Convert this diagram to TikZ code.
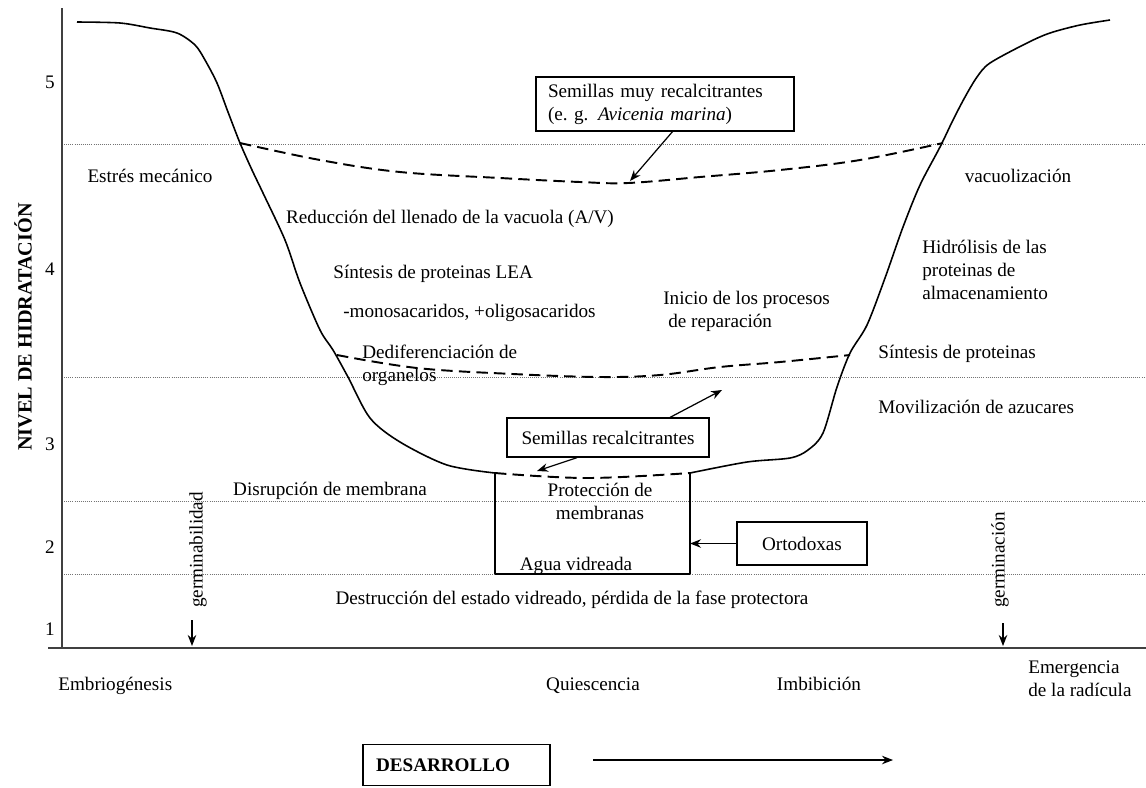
\documentclass[tikz,border=0pt]{standalone}
\usepackage{fontspec}
\setmainfont{Liberation Serif}
\usetikzlibrary{arrows.meta, positioning}

\begin{document}
\begin{tikzpicture}[
    x=0.2mm, y=-0.2mm,
    lbl/.style={font=\fontsize{10.9}{13}\selectfont, inner sep=0pt},
    one/.style={text height=1.55ex, text depth=0.3ex},
    box/.style={draw, line width=0.8pt, inner sep=0pt, font=\fontsize{10.9}{13}\selectfont},
    arr/.style={-{Stealth[length=2.2mm, width=1.7mm]}, line width=0.7pt},
    guide/.style={black!55, dash pattern=on 0.5pt off 0.7pt, line width=0.5pt},
    curve/.style={line width=0.9pt},
    dcurve/.style={line width=1.1pt, dash pattern=on 6.5pt off 3.5pt}
]
\useasboundingbox (0,0) rectangle (1146,787);

% Axes
\draw[line width=1pt, black!75] (62,8) -- (62,648);
\draw[line width=1pt, black!75] (48,648) -- (1146,648);
\foreach \v/\yy in {5/83, 4/270, 3/445, 2/548, 1/630}
  \node[lbl, one] (tick\v) at (50,\yy) {\v};
\node[font=\fontsize{11.5}{13}\selectfont\bfseries, rotate=90] (ylab) at (23,327) {NIVEL DE HIDRATACIÓN};

% Guide levels
\foreach \yy in {144, 377, 501, 574}
  \draw[guide] (64,\yy) -- (1146,\yy);

% Hydration curve
\draw[curve] plot[smooth, tension=0.5] coordinates {(77,22) (120,23) (150,28) (177,33) (195,45) (205,60) (217,83) (228,112) (240,143) (252,170) (263,193) (285,240) (300,283) (320,330) (333,350) (348,377) (370,418) (400,442) (447,465) (495,473)};
\draw[curve] plot[smooth, tension=0.5] coordinates {(690,473) (747,462) (790,458) (808,450) (823,433) (837,387) (850,353) (867,325) (885,278) (903,227) (920,185) (940,147) (953,120) (965,97) (977,77) (990,63) (1027,43) (1050,33) (1080,25) (1110,20)};

% Seed type curves
\draw[dcurve] plot[smooth, tension=0.6] coordinates {(240,143) (320,160) (400,172) (500,178) (580,182) (628,183) (700,177) (780,170) (860,160) (943,143)};
\draw[dcurve] plot[smooth, tension=0.6] coordinates {(337,355) (417,368) (513,374) (600,377) (660,375) (720,367) (780,362) (850,355)};
\draw[dcurve] plot[smooth, tension=0.6] coordinates {(495,473) (587,478) (690,473)};

% Orthodox window
\coordinate (ltop) at (495,473);
\coordinate (rtop) at (690,473);
\coordinate (lbot) at (495,574);
\coordinate (rbot) at (690,574);
\draw[line width=0.9pt] (ltop) -- (lbot);
\draw[line width=0.9pt] (rtop) -- (rbot);
\draw[line width=1.4pt] (lbot) -- (rbot);

% Boxes
\node[box, minimum width=5.16cm, minimum height=1.08cm, text width=4.68cm, align=left] (muyrec) at (665,104)
  {Semillas muy recalcitrantes\\(e.\ g. \textit{Avicenia marina})};
\node[box, minimum width=4.04cm, minimum height=0.78cm] (recalc) at (608,437.5) {Semillas recalcitrantes};
\node[box, minimum width=2.6cm, minimum height=0.86cm] (orto) at (802,543.5) {Ortodoxas};

% Box arrows
\coordinate (muytip) at (630,181);
\coordinate (uptip) at (722,390);
\coordinate (downtip) at (537,471);
\draw[arr] (muyrec.-75) -- (muytip);
\draw[arr] (recalc.18) -- (uptip);
\draw[arr] (recalc.-147) -- (downtip);
\draw[arr] (orto.west) -- (orto.west -| rbot);

% Labels left
\node[lbl, one] (estres) at (150,177) {Estrés mecánico};
\node[lbl, one] (vacuola) at (450,218) {Reducción del llenado de la vacuola (A/V)};
\node[lbl, one, anchor=west] (lea) at (333,273) {Síntesis de proteinas LEA};
\node[lbl, one, anchor=west] (azuc) at (343,312) {-monosacaridos, +oligosacaridos};
\node[lbl, anchor=west, align=left] (dedif) at (362,365) {Dediferenciación de\\organelos};
\node[lbl, anchor=west, align=left] (repar) at (663,311) {Inicio de los procesos\\\hspace{0.1cm}de reparación};
\node[lbl, one] (disrup) at (330,490) {Disrupción de membrana};
\node[lbl, align=center] (protec) at (600,501.5) {Protección de\\membranas};
\node[lbl, one] (agua) at (576,565) {Agua vidreada};
\node[lbl, one] (destr) at (572,599) {Destrucción del estado vidreado, pérdida de la fase protectora};

% Labels right
\node[lbl, one] (vacuo) at (1018,177) {vacuolización};
\node[lbl, anchor=west, align=left] (hidro) at (922,270) {Hidrólisis de las\\proteinas de\\almacenamiento};
\node[lbl, one, anchor=west] (sintp) at (878,353) {Síntesis de proteinas};
\node[lbl, one, anchor=west] (movil) at (878,408) {Movilización de azucares};

% Germination markers
\node[lbl, rotate=90] (germA) at (198,550) {germinabilidad};
\node[lbl, rotate=90] (germB) at (1000,560) {germinación};
\coordinate (gA1) at (192,620);
\coordinate (gA2) at (192,646);
\coordinate (gB1) at (1003,623);
\coordinate (gB2) at (1003,646);
\draw[arr] (gA1) -- (gA2);
\draw[arr] (gB1) -- (gB2);

% Stages
\node[lbl, one, anchor=west] (embrio) at (58,685) {Embriogénesis};
\node[lbl, one] (quies) at (593,685) {Quiescencia};
\node[lbl, one] (imbib) at (819,685) {Imbibición};
\node[lbl, anchor=west, align=left] (emerg) at (1028,678.5) {Emergencia\\de la radícula};

% Development
\node[box, minimum width=3.74cm, minimum height=0.82cm, text width=3.22cm, align=left, font=\fontsize{10.9}{13}\selectfont\bfseries] (desar) at (456.5,765) {DESARROLLO};
\coordinate (dev1) at (593,760);
\coordinate (dev2) at (893,760);
\draw[arr] (dev1) -- (dev2);

\end{tikzpicture}
\end{document}
